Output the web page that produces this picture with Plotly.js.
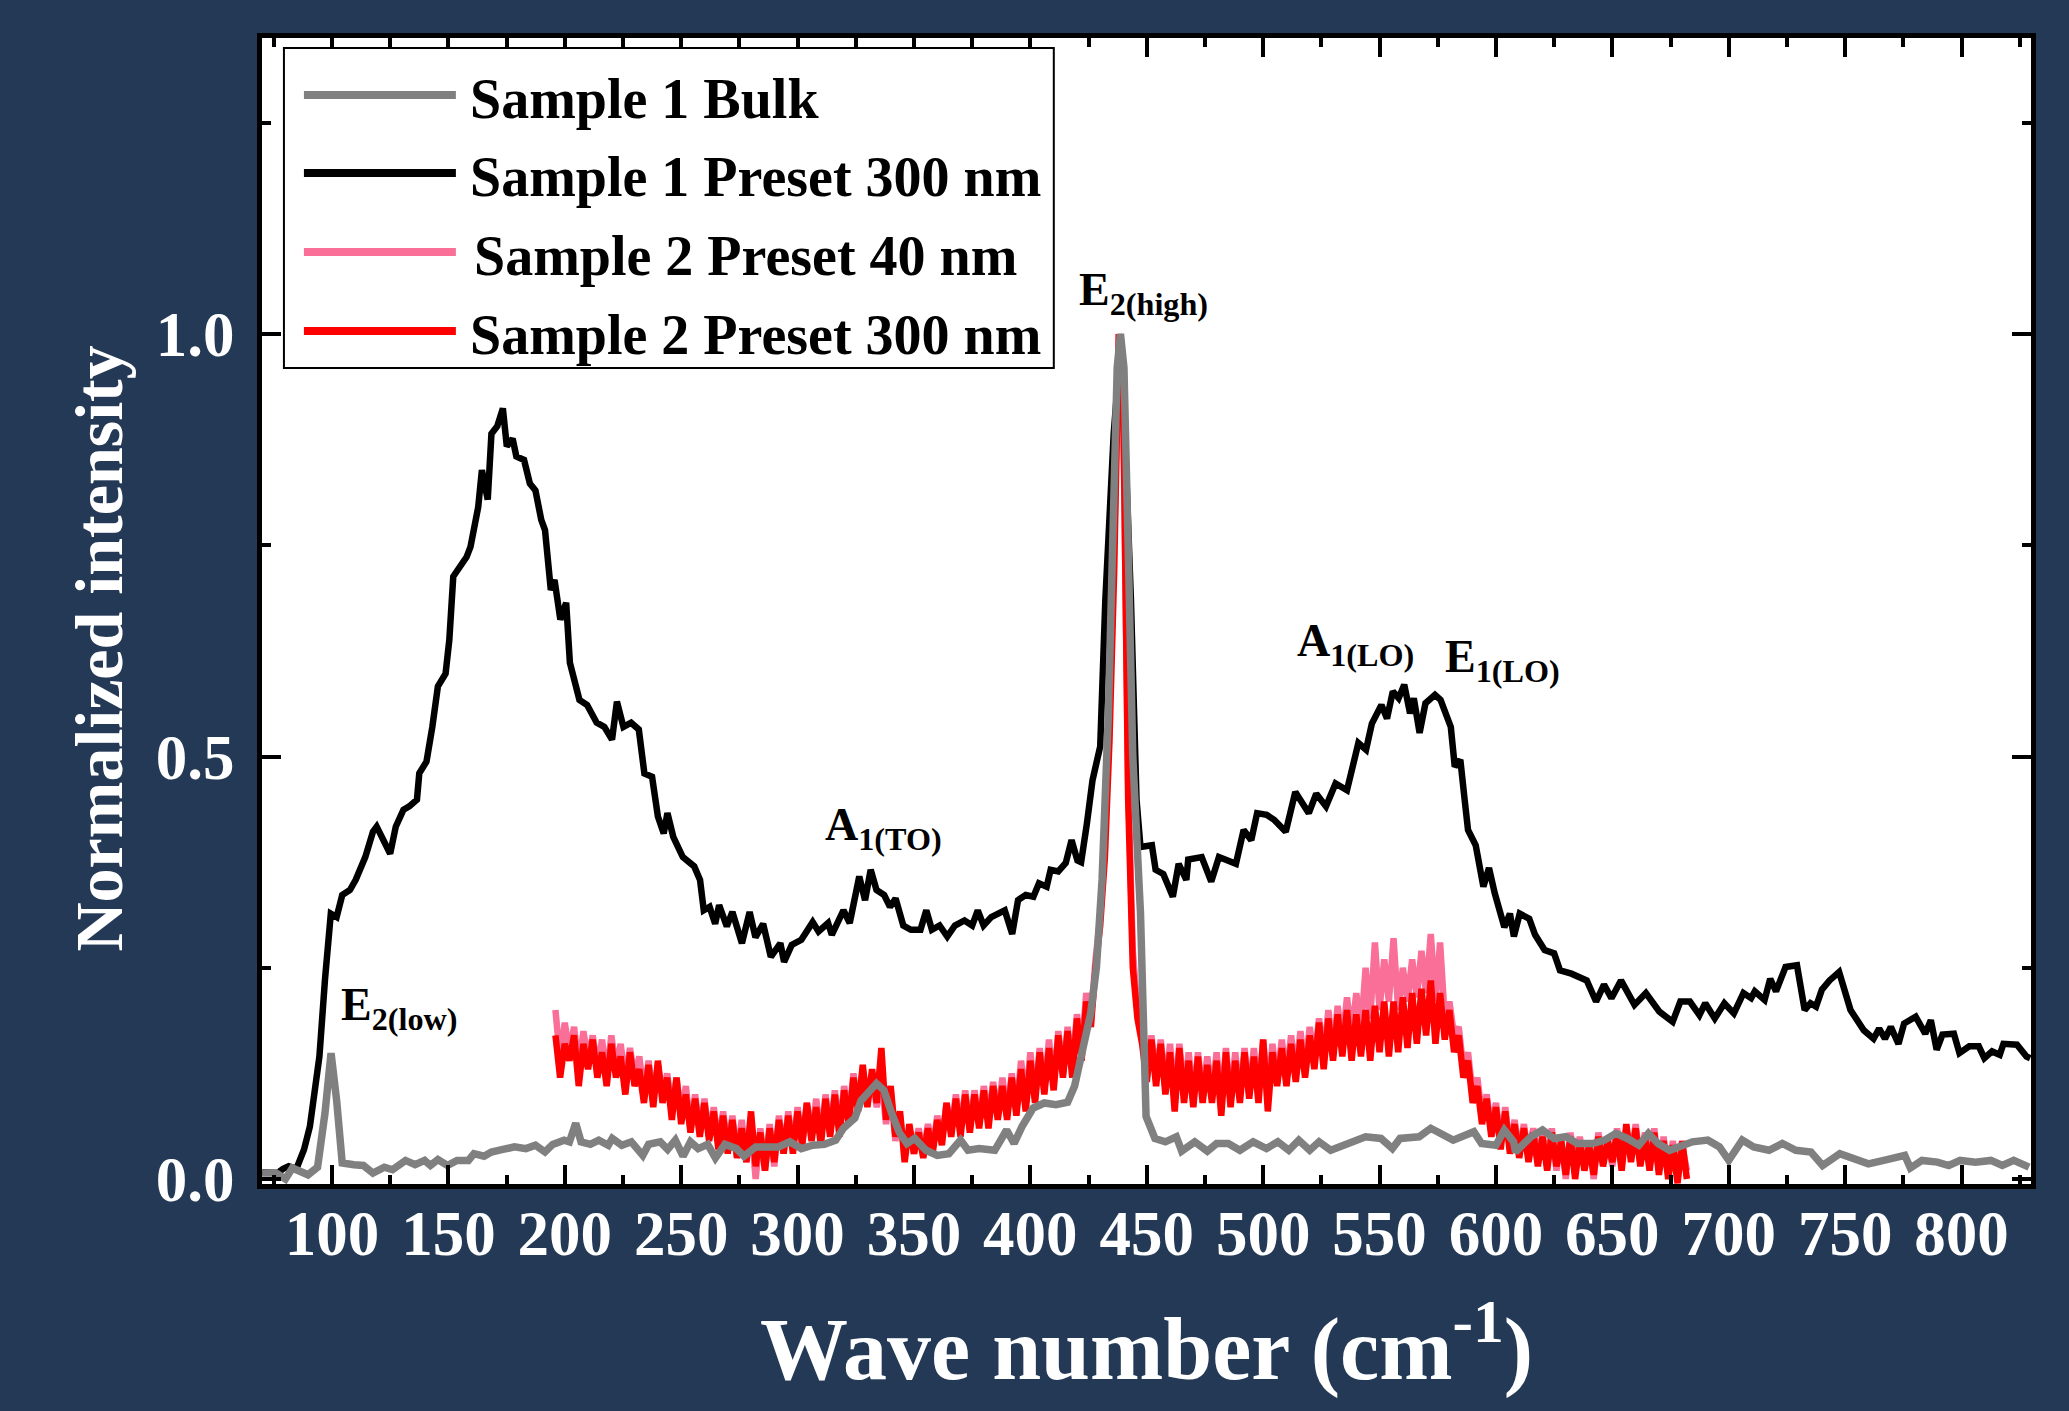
<!DOCTYPE html>
<html>
<head>
<meta charset="utf-8">
<script src="https://cdn.plot.ly/plotly-3.0.1.min.js"></script>
<style>
html,body{margin:0;padding:0;background:#243955;}
#chart{width:2069px;height:1411px;}
</style>
</head>
<body>
<div id="chart"></div>
<script>
// ---------------- DATA ----------------
const seriesNames = ['Sample 1 Bulk', 'Sample 1 Preset 300 nm', 'Sample 2 Preset 40 nm', 'Sample 2 Preset 300 nm'];

// Sample 1 Bulk (grey)
const bulkX = [70,76,80,83,89.7,93.8,97,99.6,102,104.4,109.4,113.5,117.6,122.5,126,131.6,135.7,139.8,142.3,145.5,149.6,153.7,158.6,161,165.3,168.5,173.4,178.4,183.3,187.4,191.5,194.8,199.7,202,204.7,207,211,214.6,218.7,220.4,224.5,228.6,233.5,236,241,244.2,247.5,250.8,254,257.3,261.4,264.7,268.8,273.7,277,282,287,291.8,296.7,301.6,306.5,311.5,316.4,319.7,324.6,327.3,333.9,337.1,340.4,343.7,347,350.3,355.2,360,365,370,373.2,378,384.7,389.8,393,396.4,401.2,406,411,416,419,422.6,425.9,428.4,430.8,433.5,435.5,437.3,438.7,440.2,442,444,447.3,449.7,453.5,458,462.7,465,470.6,476,480,485,490,495.7,501.4,506.3,511,515.3,520,524,529,534,539,544,550.6,555.5,558.8,563.7,567,572,577,581.6,590.5,593.8,600,603.6,607.6,608.4,615,620,625,630,635,641.6,646.6,651.5,656.4,661.4,665.5,669.6,674.6,679.5,684.4,691,696,700,705.8,710.7,717.3,723,728.8,735.3,740.3,747.7,753.4,760,766.6,775.6,778,783,789.6,794.5,799.4,806,812.6,817.5,822.4,829];
const bulkY = [0.007,0.007,0.0,0.013,0.005,0.014,0.078,0.149,0.093,0.019,0.017,0.016,0.007,0.014,0.011,0.022,0.017,0.022,0.016,0.023,0.016,0.022,0.022,0.03,0.027,0.032,0.035,0.038,0.036,0.04,0.032,0.041,0.046,0.044,0.066,0.044,0.041,0.046,0.04,0.048,0.04,0.044,0.028,0.041,0.044,0.035,0.046,0.027,0.044,0.036,0.041,0.025,0.041,0.036,0.027,0.038,0.038,0.038,0.044,0.036,0.04,0.041,0.046,0.06,0.072,0.093,0.113,0.105,0.078,0.055,0.042,0.048,0.034,0.028,0.03,0.046,0.034,0.036,0.034,0.058,0.042,0.062,0.084,0.09,0.088,0.091,0.11,0.156,0.196,0.251,0.354,0.55,0.8,0.96,1.0,0.96,0.75,0.5,0.315,0.074,0.048,0.044,0.05,0.033,0.044,0.033,0.042,0.042,0.034,0.044,0.036,0.044,0.034,0.046,0.034,0.044,0.034,0.04,0.044,0.05,0.048,0.036,0.048,0.048,0.05,0.06,0.052,0.046,0.056,0.042,0.04,0.058,0.044,0.032,0.05,0.058,0.048,0.05,0.042,0.042,0.046,0.054,0.048,0.04,0.054,0.042,0.034,0.04,0.044,0.046,0.038,0.022,0.046,0.038,0.034,0.042,0.034,0.032,0.016,0.03,0.024,0.018,0.022,0.028,0.013,0.022,0.02,0.016,0.022,0.02,0.022,0.016,0.022,0.014];

// Sample 1 Preset 300 nm (black)
const s1X = [70,76.5,79,81.4,84.7,88,90.5,92.1,94.6,97,99.5,102,104.4,107.7,110.2,114.3,117.6,119.2,122.5,125,127.4,130.7,133.2,136.5,137.5,140.6,143.1,145.5,148.8,150.4,152.1,153.7,157.8,159.5,162.8,164.4,166.9,168.5,171,173.4,175.1,177.6,179.2,182.5,185,187.4,189.9,191.5,194,195.6,198.1,200.6,202.2,206.3,209.6,213.7,217,220.3,222.4,225.2,228.5,231.8,234.2,237.5,240,242.5,244.1,246.6,250.7,255.6,258.1,259.7,262.2,264.6,266.3,269.6,272,276.1,279.4,281.9,285.2,288.5,292.6,294.2,297.5,301.6,306.5,309,313.1,314.7,319.7,322.4,326.5,329,331.4,333.9,337.2,339.7,342.1,345.4,348.7,352.8,355.3,357.7,361,364.3,367.6,371.7,375,377.4,379.9,383.2,389,392.2,394.7,398,401.3,403.7,407,408.7,412,415.2,417.7,420.2,421.8,424.3,426.7,430,432.2,435.8,438.6,441,443.2,445.6,447.3,452.2,453.8,457.1,461.2,463.7,467,467.8,473.6,477.7,481,488.3,491.6,494.9,497.4,501.5,504.8,509.7,513.8,519.6,522.8,527,531.1,536,540.9,544.2,546.7,550.8,553.2,555.7,558.2,560.6,563.1,564.7,567.2,569.7,573.8,576.2,580.6,582.3,584.7,586.5,588,591.3,594.6,597,599.5,603.6,606,607.7,610.2,614.3,616.8,620.9,625,627.5,632.4,639,643,646.4,649.6,653.7,659.5,664.4,670.2,675.9,679.2,683.3,687.4,689.9,694,698.1,702.2,706.3,709.6,711.2,715.4,717.8,720.3,724.4,729.3,732.6,735.1,737.5,740,743.3,747.4,752.3,758,762.2,764.6,767.1,769.6,772.9,775.3,780.3,784.4,786.8,789.3,791.8,796.7,799.1,803.3,807.4,809.8,813.1,816.4,818,823.8,827.9,829.5];
const s1Y = [0.008,0.007,0.012,0.015,0.012,0.035,0.062,0.09,0.145,0.236,0.314,0.31,0.336,0.342,0.354,0.381,0.411,0.417,0.397,0.385,0.417,0.437,0.441,0.449,0.48,0.494,0.535,0.583,0.598,0.638,0.713,0.72,0.736,0.748,0.795,0.839,0.804,0.882,0.891,0.912,0.867,0.876,0.855,0.851,0.823,0.815,0.78,0.768,0.697,0.709,0.662,0.682,0.611,0.567,0.561,0.54,0.535,0.52,0.565,0.535,0.54,0.532,0.48,0.476,0.429,0.409,0.433,0.405,0.381,0.37,0.354,0.318,0.322,0.302,0.324,0.299,0.316,0.279,0.316,0.286,0.302,0.263,0.279,0.257,0.277,0.283,0.304,0.293,0.303,0.289,0.318,0.303,0.358,0.33,0.366,0.342,0.336,0.322,0.332,0.3,0.295,0.295,0.318,0.295,0.3,0.287,0.3,0.306,0.3,0.318,0.3,0.31,0.318,0.29,0.33,0.336,0.334,0.35,0.346,0.366,0.364,0.374,0.401,0.377,0.375,0.421,0.472,0.512,0.685,0.882,0.98,0.85,0.685,0.449,0.393,0.395,0.366,0.361,0.334,0.373,0.354,0.378,0.381,0.352,0.381,0.373,0.413,0.401,0.433,0.431,0.425,0.411,0.458,0.433,0.456,0.441,0.468,0.46,0.516,0.508,0.539,0.561,0.545,0.577,0.569,0.585,0.551,0.569,0.528,0.563,0.573,0.567,0.535,0.488,0.496,0.45,0.413,0.395,0.346,0.368,0.338,0.298,0.314,0.287,0.314,0.308,0.289,0.271,0.267,0.247,0.243,0.235,0.21,0.23,0.214,0.235,0.206,0.22,0.198,0.186,0.21,0.21,0.194,0.208,0.19,0.208,0.196,0.22,0.214,0.222,0.212,0.237,0.222,0.251,0.253,0.2,0.208,0.204,0.224,0.235,0.245,0.2,0.176,0.166,0.178,0.166,0.18,0.16,0.184,0.192,0.172,0.188,0.153,0.171,0.172,0.149,0.157,0.157,0.143,0.151,0.147,0.16,0.159,0.145,0.143];

// Sample 2 spectra: sampled from 196 cm-1 every 2 cm-1
const s2Start = 196;
const s2Step = 2;
const s2_40Y = [
0.20,0.14,0.185,0.15,0.18,0.13,0.175,0.14,0.17,0.13,
0.165,0.12,0.17,0.13,0.16,0.115,0.155,0.12,0.145,0.10,
0.14,0.095,0.135,0.10,0.125,0.08,0.12,0.075,0.11,0.06,
0.10,0.055,0.095,0.05,0.085,0.04,0.08,0.035,0.075,0.025,
0.07,0.02,0.065,0.0,0.06,0.01,0.065,0.015,0.075,0.03,
0.08,0.035,0.085,0.04,0.09,0.05,0.095,0.045,0.10,0.055,
0.105,0.06,0.11,0.07,0.125,0.085,0.13,0.09,0.125,0.085,
0.12,0.065,0.105,0.045,0.075,0.03,0.06,0.03,0.06,0.03,
0.065,0.035,0.075,0.045,0.09,0.055,0.10,0.06,0.105,0.06,
0.105,0.065,0.11,0.07,0.115,0.075,0.12,0.075,0.125,0.08,
0.14,0.09,0.15,0.095,0.155,0.105,0.165,0.11,0.175,0.125,
0.18,0.13,0.195,0.15,0.22,0.19,0.26,0.31,0.40,0.55,
0.75,1.0,0.88,0.47,0.27,0.20,0.17,0.12,0.17,0.12,
0.165,0.11,0.16,0.095,0.16,0.10,0.15,0.095,0.15,0.10,
0.145,0.10,0.15,0.09,0.155,0.095,0.15,0.10,0.155,0.10,
0.155,0.10,0.165,0.10,0.16,0.115,0.165,0.12,0.17,0.125,
0.175,0.13,0.18,0.14,0.19,0.145,0.20,0.15,0.205,0.16,
0.215,0.17,0.22,0.175,0.25,0.19,0.28,0.20,0.26,0.21,
0.285,0.20,0.25,0.21,0.26,0.215,0.27,0.22,0.29,0.21,
0.28,0.19,0.21,0.17,0.18,0.13,0.15,0.10,0.12,0.075,
0.10,0.06,0.09,0.045,0.085,0.035,0.07,0.03,0.065,0.025,
0.06,0.02,0.055,0.015,0.06,0.01,0.05,0.0,0.055,0.005,
0.05,0.015,0.045,0.0,0.055,0.02,0.05,0.015,0.06,0.015,
0.06,0.025,0.065,0.02,0.055,0.015,0.06,0.01,0.05,0.005,
0.045,0.0,0.04,0.01];
const s2_300Y = [
0.17,0.12,0.16,0.14,0.17,0.11,0.16,0.13,0.165,0.12,
0.15,0.11,0.16,0.12,0.145,0.10,0.15,0.11,0.13,0.09,
0.135,0.085,0.14,0.09,0.12,0.07,0.12,0.065,0.10,0.055,
0.095,0.05,0.09,0.045,0.08,0.035,0.075,0.03,0.07,0.025,
0.06,0.02,0.08,0.015,0.055,0.01,0.06,0.02,0.07,0.03,
0.075,0.03,0.08,0.04,0.09,0.045,0.085,0.04,0.095,0.05,
0.10,0.05,0.105,0.065,0.12,0.08,0.135,0.085,0.13,0.09,
0.155,0.07,0.11,0.05,0.08,0.02,0.065,0.03,0.055,0.025,
0.06,0.03,0.07,0.04,0.09,0.05,0.095,0.05,0.10,0.055,
0.10,0.06,0.105,0.06,0.11,0.07,0.11,0.07,0.12,0.075,
0.13,0.08,0.14,0.09,0.15,0.10,0.155,0.105,0.17,0.12,
0.175,0.12,0.19,0.14,0.21,0.18,0.25,0.30,0.38,0.52,
0.72,1.0,0.9,0.45,0.25,0.19,0.16,0.115,0.165,0.11,
0.16,0.10,0.15,0.08,0.155,0.09,0.14,0.085,0.145,0.09,
0.135,0.09,0.14,0.075,0.15,0.085,0.14,0.09,0.15,0.095,
0.145,0.09,0.165,0.08,0.15,0.11,0.155,0.11,0.16,0.115,
0.165,0.12,0.17,0.13,0.185,0.13,0.19,0.14,0.195,0.145,
0.20,0.14,0.195,0.145,0.20,0.14,0.205,0.15,0.21,0.145,
0.21,0.15,0.215,0.155,0.22,0.16,0.225,0.17,0.235,0.16,
0.22,0.165,0.20,0.15,0.17,0.12,0.14,0.09,0.11,0.065,
0.095,0.05,0.085,0.035,0.08,0.03,0.065,0.025,0.06,0.02,
0.055,0.015,0.05,0.01,0.055,0.015,0.045,0.005,0.05,0.0,
0.045,0.01,0.04,0.005,0.05,0.015,0.045,0.02,0.055,0.01,
0.065,0.02,0.06,0.015,0.05,0.01,0.055,0.005,0.045,0.0,
0.04,-0.005,0.045,0.0];

const seriesColors = ['#808080', '#000000', '#f96f98', '#ff0000'];

// ---------------- CHART ----------------
const FONT = 'Liberation Serif, Times New Roman, serif';

const traces = [
  {type:'scatter', mode:'lines', name:seriesNames[1], x:s1X, y:s1Y,
   line:{color:seriesColors[1], width:6.5}, showlegend:false},
  {type:'scatter', mode:'lines', name:seriesNames[2], x0:s2Start, dx:s2Step, y:s2_40Y,
   line:{color:seriesColors[2], width:6.5}, showlegend:false},
  {type:'scatter', mode:'lines', name:seriesNames[3], x0:s2Start, dx:s2Step, y:s2_300Y,
   line:{color:seriesColors[3], width:6.5}, showlegend:false},
  {type:'scatter', mode:'lines', name:seriesNames[0], x:bulkX, y:bulkY,
   line:{color:seriesColors[0], width:7.5}, showlegend:false}
];

// manual legend (box + sample lines + labels) in paper coordinates
const legRowsY = [0.9503, 0.8822, 0.8133, 0.7443];
const legendOrder = [0, 1, 2, 3];
const shapes = [
  {type:'rect', xref:'paper', yref:'paper', x0:0.0124, x1:0.4476, y0:0.7120, y1:0.9913,
   line:{color:'#000', width:2}, fillcolor:'#fff', layer:'above'}
];
const annotations = [];
legendOrder.forEach((k, i) => {
  shapes.push({type:'line', xref:'paper', yref:'paper', x0:0.0237, x1:0.1096,
    y0:legRowsY[i], y1:legRowsY[i], line:{color:seriesColors[k], width:8}, layer:'above'});
  annotations.push({xref:'paper', yref:'paper', x:(k===2?0.1186:0.1164), y:legRowsY[i] - 0.0035,
    xanchor:'left', yanchor:'middle', showarrow:false, text:seriesNames[k],
    font:{family:FONT, size:56, color:'#000', weight:'bold'}});
});

// mode labels
const modeFont = {family:FONT, size:46, color:'#000', weight:'bold'};
[
  ['E<sub>2(low)</sub>', 102.8, 0.202],
  ['A<sub>1(TO)</sub>', 311.0, 0.415],
  ['E<sub>2(high)</sub>', 420.0, 1.048],
  ['A<sub>1(LO)</sub>', 513.6, 0.633],
  ['E<sub>1(LO)</sub>', 577.2, 0.614]
].forEach(([t, x, y]) => annotations.push({xref:'x', yref:'y', x:x, y:y, text:t,
  xanchor:'left', yanchor:'middle', showarrow:false, font:modeFont}));

// y-axis title placed as rotated text, centred where the reference has it
annotations.push({xref:'paper', yref:'paper', x:-0.0921, y:0.4673, xanchor:'center', yanchor:'middle',
  textangle:-90, showarrow:false, text:'Normalized intensity',
  font:{family:FONT, size:68, color:'#ffffff', weight:'bold'}});

const tickFont = {family:FONT, size:63, color:'#ffffff', weight:'bold'};

const layout = {
  width:2069, height:1411,
  paper_bgcolor:'#243955', plot_bgcolor:'#ffffff',
  margin:{l:262, r:37.5, t:38, b:227},
  showlegend:false,
  xaxis:{
    range:[69.94, 829.83], showline:true, linewidth:5, linecolor:'#000', mirror:'allticks',
    ticks:'inside', ticklen:19, tickwidth:4, tickcolor:'#000', tick0:0, dtick:50,
    minor:{ticks:'inside', ticklen:9, tickwidth:4, tickcolor:'#000', tick0:0, dtick:25},
    showgrid:false, zeroline:false, tickfont:tickFont, ticklabelstandoff:-10,
    title:{text:'Wave number (cm<sup>-1</sup>)', standoff:51,
      font:{family:FONT, size:88, color:'#ffffff', weight:'bold'}}
  },
  yaxis:{
    range:[-0.0059, 1.3503], showline:true, linewidth:5, linecolor:'#000', mirror:'allticks',
    ticks:'inside', ticklen:19, tickwidth:4, tickcolor:'#000', tick0:0, dtick:0.5, tickformat:'.1f',
    minor:{ticks:'inside', ticklen:9, tickwidth:4, tickcolor:'#000', tick0:0, dtick:0.25},
    showgrid:false, zeroline:false, tickfont:tickFont, ticklabelstandoff:10
  },
  shapes:shapes,
  annotations:annotations
};

Plotly.newPlot('chart', traces, layout, {staticPlot:true, displayModeBar:false});
</script>
</body>
</html>
